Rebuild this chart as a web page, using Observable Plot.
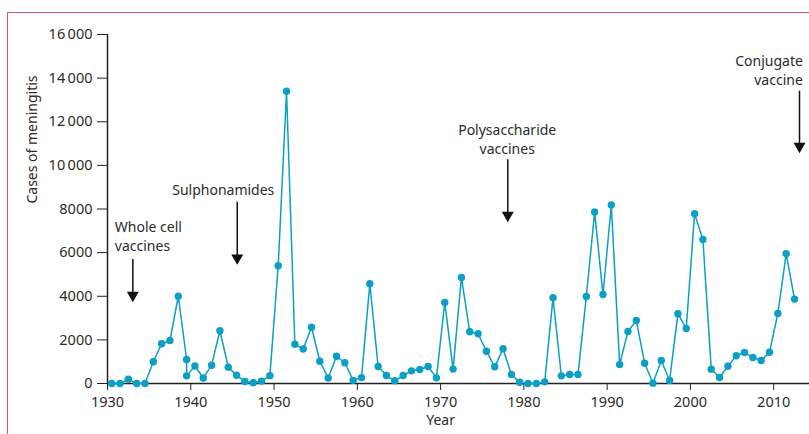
<!DOCTYPE html>
<html><head><meta charset="utf-8">
<script src="https://cdn.jsdelivr.net/npm/d3@7"></script>
<script src="https://cdn.jsdelivr.net/npm/@observablehq/plot@0.6"></script>
<style>
body{margin:0;background:#fff;}
#wrap{position:relative;width:809px;height:434px;overflow:hidden;background:#fff;}
#frame{position:absolute;left:7px;top:12px;width:900px;height:500px;border-top:1.5px solid #d6557a;border-left:1.5px solid #d6557a;}
#chart{position:absolute;left:0;top:0;}
</style></head><body>
<div id="wrap"><div id="frame"></div><div id="chart"></div></div>
<script>
const years = [1930,1931,1932,1933,1934,1935,1936,1937,1938,1939,1939,1940,1941,1942,1943,1944,1945,1946,1947,1948,1949,
  1950,1951,1952,1953,1954,1955,1956,1957,1958,1959,1960,1961,1962,1963,1964,1965,1966,1967,1968,1969,
  1970,1971,1972,1973,1974,1975,1976,1977,1978,1979,1980,1981,1982,1983,1984,1985,1986,1987,1988,1989,
  1990,1991,1992,1993,1994,1995,1996,1997,1998,1999,2000,2001,2002,2003,2004,2005,2006,2007,2008,2009,
  2010,2011,2012];
const cases = [0,0,200,0,0,1000,1820,1970,4000,1100,350,800,250,840,2420,750,380,90,40,110,360,
  5400,13400,1800,1580,2580,1020,250,1250,950,145,270,4570,780,367,124,367,580,640,780,260,
  3715,660,4860,2370,2280,1480,765,1590,413,60,0,0,75,3930,350,410,410,3990,7860,4080,
  8180,870,2385,2890,930,15,1055,140,3200,2520,7780,6605,657,275,795,1270,1420,1190,1055,1435,
  3210,5950,3870];
const yTicks = [0,2000,4000,6000,8000,10000,12000,14000,16000];
const yTickLabels = ["0","2000","4000","6000","8000","10\u2009000","12\u2009000","14\u2009000","16\u2009000"];
const xTicks = [1930,1940,1950,1960,1970,1980,1990,2000,2010];

const annLabels = ["Whole cell\nvaccines","Sulphonamides","Polysaccharide\nvaccines","Conjugate\nvaccine"];
const annTextX = [1930.88,1937.77,1978.0,2013.5];
const annTextY = [6052,8619,10531,13662];
const annAnchor = ["start","start","middle","end"];
const arrowX = [1933.04,1945.58,1978.07,2013.1];
const arrowTop = [5685,8312,10256,13400];
const arrowTip = [3727,5442,7395,10558];

const data = years.map((y,i)=>({year:y, cases:cases[i]}));
const ann = annLabels.map((l,i)=>({label:l, tx:annTextX[i], ty:annTextY[i], anchor:annAnchor[i], ax:arrowX[i], top:arrowTop[i], tip:arrowTip[i]}));
const yLabelMap = Object.fromEntries(yTicks.map((t,i)=>[t,yTickLabels[i]]));
const col = "#0b9fc6";
const ink = "#222";

const chart = Plot.plot({
  width: 809, height: 434,
  marginLeft: 107, marginRight: 0, marginTop: 34, marginBottom: 51,
  style: {fontFamily: "'Noto Sans', sans-serif", fontSize: "14px", color: "#2b2b2b", background: "transparent", overflow: "visible"},
  x: {domain: [1930, 2014.3]},
  y: {domain: [0, 16000]},
  marks: [
    Plot.axisY({ticks: yTicks, tickFormat: d => yLabelMap[d], tickSize: 10, tickPadding: 5, label: null, stroke: ink, fill: "#2b2b2b", fontSize: 14.5}),
    Plot.axisX({ticks: xTicks, tickFormat: d => String(d), tickSize: 7, tickPadding: 6, label: null, stroke: ink, fill: "#2b2b2b", fontSize: 14.5}),
    Plot.ruleX([1930], {y1: 0, y2: 16000, stroke: ink, strokeWidth: 1.5}),
    Plot.ruleY([0], {stroke: ink, strokeWidth: 1.5}),
    Plot.line(data, {x: d => d.year + 0.5, y: "cases", stroke: col, strokeWidth: 1.5}),
    Plot.dot(data, {x: d => d.year + 0.5, y: "cases", r: 3.7, fill: col}),
    Plot.ruleX(ann, {x: "ax", y1: "top", y2: d => d.tip + 200, stroke: "#111", strokeWidth: 1.5}),
    Plot.dot(ann, {x: "ax", y: "tip", symbol: "triangle", r: 4.45, rotate: 180, fill: "#111", dy: -6.9}),
    Plot.text(ann.filter(d => d.anchor === "start"), {x: "tx", y: "ty", text: "label", textAnchor: "start", lineAnchor: "bottom", lineHeight: 1.36, fill: "#2b2b2b"}),
    Plot.text(ann.filter(d => d.anchor === "middle"), {x: "tx", y: "ty", text: "label", textAnchor: "middle", lineAnchor: "bottom", lineHeight: 1.36, fill: "#2b2b2b"}),
    Plot.text(ann.filter(d => d.anchor === "end"), {x: "tx", y: "ty", text: "label", textAnchor: "end", lineAnchor: "bottom", lineHeight: 1.36, fill: "#2b2b2b"}),
    Plot.text(["Cases of meningitis"], {frameAnchor: "left", y: 8250, rotate: -90, dx: -75, fill: "#2b2b2b"}),
    Plot.text(["Year"], {x: 1970, frameAnchor: "bottom", dy: 41, fill: "#2b2b2b"})
  ]
});
document.getElementById("chart").appendChild(chart);
</script>
</body></html>
